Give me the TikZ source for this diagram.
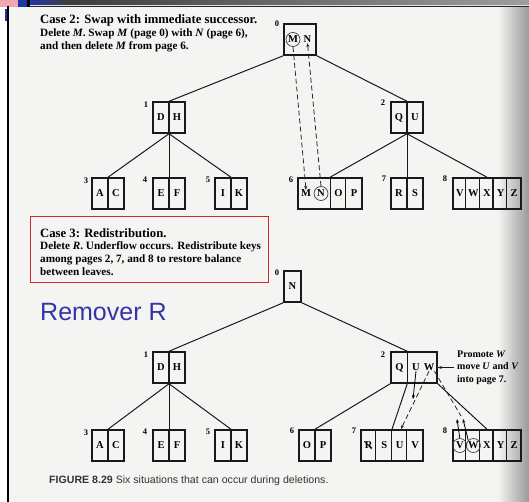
\documentclass[tikz,border=0pt]{standalone}
\usepackage{fontspec}
\setmainfont{Liberation Serif}
\newfontfamily\capsans{Liberation Sans}
\usetikzlibrary{arrows.meta,calc}
\definecolor{paper}{HTML}{F4F4F2}
\definecolor{inkred}{HTML}{D02828}
\definecolor{slideblue}{HTML}{3434A8}
\definecolor{decopink}{HTML}{F2A6AE}
\definecolor{decoblue}{HTML}{2233A8}
\begin{document}
\begin{tikzpicture}[x=1pt,y=-1pt,
  page/.style={draw=black!90, line width=1.5pt, rectangle, minimum height=31pt, inner sep=0pt},
  divider/.style={draw=black!90, line width=1.2pt},
  cellkey/.style={font=\fontsize{10.5}{11}\selectfont\bfseries, inner sep=0pt},
  pnum/.style={font=\fontsize{8.5}{9}\selectfont\bfseries, inner sep=0pt},
  circ/.style={draw=black!75, circle, line width=0.7pt, minimum size=14pt, inner sep=0pt,
               font=\fontsize{10.5}{11}\selectfont\bfseries},
  link/.style={line width=1pt, draw=black!90},
  arr/.style={-{Stealth[length=4pt,width=3pt]}},
  swapline/.style={line width=0.8pt, draw=black!85, dash pattern=on 5pt off 3pt},
  casehead/.style={font=\fontsize{12.7}{14}\selectfont\bfseries, anchor=base west, inner sep=0pt},
  casebody/.style={font=\fontsize{11.2}{13}\selectfont\bfseries, anchor=base west, inner sep=0pt},
]
\useasboundingbox (0,0) rectangle (529,502);

% ---------- page background, frame and slide decoration ----------
\fill[white] (0,0) rectangle (529,502);
\fill[paper] (8,7) rectangle (529,502);
\shade[left color=paper, right color=black!40] (498,7) rectangle (529,502);
\shade[left color=black!82, right color=black!38] (0,0) rectangle (529,4.6);
\fill[black!12] (0,4.6) rectangle (529,5.4);
\draw[black!85, line width=1.3pt] (7,6.2) -- (529,6.2);
\fill[decopink] (0,0) rectangle (18,7);
\fill[decoblue] (18,0) rectangle (27,7);
\fill[black] (27,0) rectangle (30,7);
\shade[left color=decoblue, right color=black!75] (30,0) rectangle (68,4.6);
\fill[decoblue] (4.5,9) rectangle (7,21);
\draw[black, line width=1.8pt] (7.8,6) -- (7.8,502);

% ---------- case 2 text ----------
\node[casehead] (c2a) at (40,23.5) {Case 2: Swap with immediate successor.};
\node[casebody] (c2b) at (40,36.3) {Delete \textit{M}. Swap \textit{M} (page 0) with \textit{N} (page 6),};
\node[casebody] (c2c) at (40,49.3) {and then delete \textit{M} from page 6.};

% ---------- upper tree ----------
\node[page, minimum width=32pt] (r0) at (300,39.5) {};
\node[circ] (m0) at (293,39.5) {M};
\node[cellkey] (n0k) at (307.5,39.5) {N};

\node[page, minimum width=32pt] (n1) at (169,117.5) {};
\draw[divider] (n1.north) -- (n1.south);
\node[cellkey] (d1) at (161,117.5) {D};
\node[cellkey] (h1) at (177,117.5) {H};

\node[page, minimum width=32pt] (n2) at (407,117.5) {};
\draw[divider] (n2.north) -- (n2.south);
\node[cellkey] (q2) at (399,117.5) {Q};
\node[cellkey] (u2) at (415,117.5) {U};

\node[page, minimum width=32pt] (n3) at (108,193.5) {};
\draw[divider] (n3.north) -- (n3.south);
\node[cellkey] (a3) at (100,193.5) {A};
\node[cellkey] (c3) at (116,193.5) {C};

\node[page, minimum width=32pt] (n4) at (169,193.5) {};
\draw[divider] (n4.north) -- (n4.south);
\node[cellkey] (e4) at (161,193.5) {E};
\node[cellkey] (f4) at (177,193.5) {F};

\node[page, minimum width=32pt] (n5) at (231,193.5) {};
\draw[divider] (n5.north) -- (n5.south);
\node[cellkey] (i5) at (223,193.5) {I};
\node[cellkey] (k5) at (239,193.5) {K};

\node[page, minimum width=64pt] (n6) at (330,193.5) {};
\foreach \d in {33,48}
  \draw[divider] ($(n6.north west)+(\d,0)$) -- ($(n6.south west)+(\d,0)$);
\node[cellkey] (m6) at (306,193.5) {M};
\node[circ] (n6c) at (321,193.5) {N};
\node[cellkey] (o6) at (338.5,193.5) {O};
\node[cellkey] (p6) at (354,193.5) {P};

\node[page, minimum width=32pt] (n7) at (407,193.5) {};
\draw[divider] (n7.north) -- (n7.south);
\node[cellkey] (r7) at (399,193.5) {R};
\node[cellkey] (s7) at (415,193.5) {S};

\node[page, minimum width=68pt] (n8) at (487,193.5) {};
\foreach \d in {13.6,27.2,40.8,54.4}
  \draw[divider] ($(n8.north west)+(\d,0)$) -- ($(n8.south west)+(\d,0)$);
\node[cellkey] (v8) at (459.8,193.5) {V};
\node[cellkey] (w8) at (473.4,193.5) {W};
\node[cellkey] (x8) at (487,193.5) {X};
\node[cellkey] (y8) at (500.6,193.5) {Y};
\node[cellkey] (z8) at (514.2,193.5) {Z};

% page numbers
\node[pnum] (t0) at (277,24) {0};
\node[pnum] (t1) at (146,105) {1};
\node[pnum] (t2) at (383,103) {2};
\node[pnum] (t3) at (86,181) {3};
\node[pnum] (t4) at (145,180) {4};
\node[pnum] (t5) at (208,180) {5};
\node[pnum] (t6) at (291,180) {6};
\node[pnum] (t7) at (384,179) {7};
\node[pnum] (t8) at (445,179) {8};

% tree links
\draw[link] (r0.south west) -- (n1.north);
\draw[link] (r0.south east) -- (n2.north);
\draw[link] (n1.south) -- (n3.north);
\draw[link] (n1.south) -- (n4.north);
\draw[link] (n1.south) -- (n5.north);
\draw[link] (n2.south) -- (n6.north);
\draw[link] (n2.south) -- (n7.north);
\draw[link] (n2.south) -- (n8.north);

% swap of M and N
\draw[swapline, arr] (m0.south) -- (m6.north);
\draw[swapline, arr] (n6c.north) -- (n0k.south);

% ---------- case 3 text ----------
\draw[inkred, line width=1pt] (30,217) rectangle (268,282);
\node[casehead] (c3a) at (40,237) {Case 3: Redistribution.};
\node[casebody] (c3b) at (40,249.5) {Delete \textit{R}. Underflow occurs. Redistribute keys};
\node[casebody] (c3c) at (40,262.5) {among pages 2, 7, and 8 to restore balance};
\node[casebody] (c3d) at (40,275.5) {between leaves.};

\node[anchor=base west, inner sep=0pt, font=\capsans\fontsize{25}{30}\selectfont, text=slideblue]
  (rem) at (40,320) {Remover R};

% ---------- lower tree ----------
\node[page, minimum width=17pt] (b0) at (292.5,286.5) {};
\node[cellkey] (nb0) at (292.5,286.5) {N};

\node[page, minimum width=32pt] (b1) at (169,367.5) {};
\draw[divider] (b1.north) -- (b1.south);
\node[cellkey] (db1) at (161,367.5) {D};
\node[cellkey] (hb1) at (177,367.5) {H};

\node[page, minimum width=46pt] (b2) at (414,367.5) {};
\draw[divider] ($(b2.north west)+(17,0)$) -- ($(b2.south west)+(17,0)$);
\coordinate (b2top) at ($(b2.north west)+(17,0)$);
\coordinate (b2bot) at ($(b2.south west)+(17,0)$);
\node[cellkey] (qb2) at (399.5,367.5) {Q};
\node[cellkey] (ub2) at (416,367.5) {U};
\node[cellkey] (wb2) at (429,367.5) {W};

\node[page, minimum width=32pt] (b3) at (108,445.5) {};
\draw[divider] (b3.north) -- (b3.south);
\node[cellkey] (ab3) at (100,445.5) {A};
\node[cellkey] (cb3) at (116,445.5) {C};

\node[page, minimum width=32pt] (b4) at (169,445.5) {};
\draw[divider] (b4.north) -- (b4.south);
\node[cellkey] (eb4) at (161,445.5) {E};
\node[cellkey] (fb4) at (177,445.5) {F};

\node[page, minimum width=32pt] (b5) at (231,445.5) {};
\draw[divider] (b5.north) -- (b5.south);
\node[cellkey] (ib5) at (223,445.5) {I};
\node[cellkey] (kb5) at (239,445.5) {K};

\node[page, minimum width=32pt] (b6) at (315,445.5) {};
\draw[divider] (b6.north) -- (b6.south);
\node[cellkey] (ob6) at (307,445.5) {O};
\node[cellkey] (pb6) at (323,445.5) {P};

\node[page, minimum width=62pt] (b7) at (392,445.5) {};
\foreach \d in {15.5,31,46.5}
  \draw[divider] ($(b7.north west)+(\d,0)$) -- ($(b7.south west)+(\d,0)$);
\node[cellkey] (rb7) at (368.75,445.5) {R};
\node[cellkey] (sb7) at (384.25,445.5) {S};
\node[cellkey] (ub7) at (399.75,445.5) {U};
\node[cellkey] (vb7) at (415.25,445.5) {V};
\draw[line width=0.6pt] ($(rb7.north west)+(-0.5,-0.5)$) -- ($(rb7.south east)+(-1,0)$);

\node[page, minimum width=68pt] (b8) at (487,445.5) {};
\foreach \d in {13.6,27.2,40.8,54.4}
  \draw[divider] ($(b8.north west)+(\d,0)$) -- ($(b8.south west)+(\d,0)$);
\node[circ] (vb8) at (459.8,445.5) {V};
\node[circ] (wb8) at (473.4,445.5) {W};
\node[cellkey] (xb8) at (487,445.5) {X};
\node[cellkey] (yb8) at (500.6,445.5) {Y};
\node[cellkey] (zb8) at (514.2,445.5) {Z};

% page numbers
\node[pnum] (s0) at (277,273) {0};
\node[pnum] (s1) at (146,355) {1};
\node[pnum] (s2) at (383,355) {2};
\node[pnum] (s3) at (86,433) {3};
\node[pnum] (s4) at (145,432) {4};
\node[pnum] (s5) at (208,432) {5};
\node[pnum] (s6) at (292,431) {6};
\node[pnum] (s7) at (354,431) {7};
\node[pnum] (s8) at (445,431) {8};

% tree links
\draw[link] (b0.south west) -- (b1.north);
\draw[link] (b0.south east) -- (b2top);
\draw[link] (b1.south) -- (b3.north);
\draw[link] (b1.south) -- (b4.north);
\draw[link] (b1.south) -- (b5.north);
\draw[link] (b2.south west) -- (b6.north);
\draw[link] (b2bot) -- (b7.north);
\draw[link] (b2.south east) -- (b8.north);

% redistribution moves
\coordinate (udown) at (413,399);
\coordinate (uin) at (401,429);
\coordinate (wmeet) at (461,416);
\coordinate (vup) at (457,419);
\coordinate (wup) at (463,419);
\draw[line width=0.8pt, arr] (ub2.south) -- (udown);
\draw[swapline, arr] (wb2.south) -- (uin);
\draw[swapline] (wb2.south east) -- (wmeet);
\draw[line width=0.8pt, arr] (vb8.north) -- (vup);
\draw[line width=0.8pt, arr] (wb8.north west) -- (wup);

% note on the right
\node[anchor=west, align=left, inner sep=0pt, font=\fontsize{10}{12.5}\selectfont\bfseries]
  (promo) at (457,367.5) {Promote \textit{W}\\move \textit{U} and \textit{V}\\into page 7.};
\coordinate (pm) at (454,367.5);
\draw[link, arr] (pm) -- (b2.east);

% ---------- caption ----------
\node[anchor=base west, inner sep=0pt, font=\capsans\fontsize{10.6}{12}\selectfont, text=black!80]
  (cap) at (49,483) {\textbf{FIGURE 8.29} Six situations that can occur during deletions.};

\end{tikzpicture}
\end{document}
